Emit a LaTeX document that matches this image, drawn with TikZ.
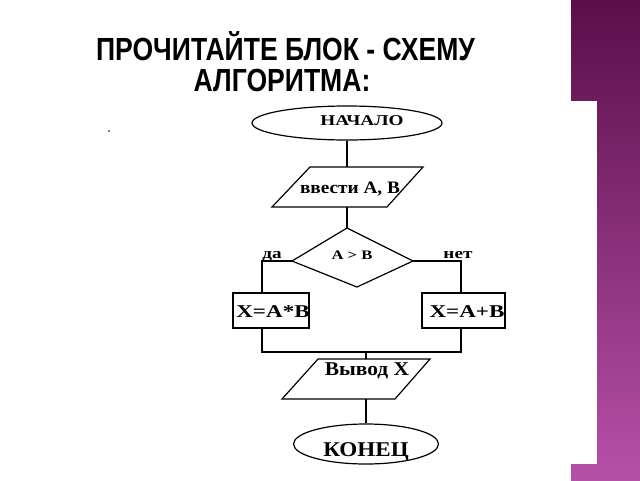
\documentclass[tikz,border=0pt]{standalone}
\usepackage{fontspec}
\setmainfont{Liberation Serif}
\newfontfamily\scanA[FakeStretch=1.1]{Liberation Serif}
\newfontfamily\scanB[FakeStretch=1.28]{Liberation Serif}
\newfontfamily\titlefont[FakeStretch=0.83]{Liberation Sans}
\usetikzlibrary{shapes.geometric,calc}
\definecolor{purpleTop}{HTML}{5A0F4A}
\definecolor{purpleBot}{HTML}{B750A8}
\begin{document}
\begin{tikzpicture}[x=1pt,y=-1pt,line width=1.2pt,
  term/.style={ellipse,draw,inner sep=0pt},
  box/.style={rectangle,draw,inner sep=0pt},
  lblA/.style={inner sep=0pt,anchor=base,font=\scanA\bfseries\fontsize{#1pt}{#1pt}\selectfont},
  lblB/.style={inner sep=0pt,anchor=base,font=\scanB\bfseries\fontsize{#1pt}{#1pt}\selectfont},
  ttl/.style={inner sep=0pt,anchor=base,font=\titlefont\bfseries\fontsize{32pt}{32pt}\selectfont}]
\useasboundingbox (0,0) rectangle (640,480);
\fill[white] (0,0) rectangle (640,480);
% right decorative band
\shade[top color=purpleTop,bottom color=purpleBot,draw=none] (571,0) rectangle (640,480);
\fill[white] (571,101) rectangle (597,464);
% title
\node[ttl] (t1) at (285.5,60) {ПРОЧИТАЙТЕ БЛОК - СХЕМУ};
\node[ttl] (t2) at (282,91) {АЛГОРИТМА:};
% stray dot
\fill (109,131) circle (0.9);
% start
\node[term,minimum width=190pt,minimum height=34pt] (start) at (347,123) {};
\node[lblB=15] (lstart) at (362,125) {НАЧАЛО};
% input
\coordinate (inBL) at (272,207); \coordinate (inTL) at (310,167);
\coordinate (inTR) at (423,167); \coordinate (inBR) at (387,207);
\coordinate (inT) at (347,167); \coordinate (inB) at (347,207);
\draw (inBL) -- (inTL) -- (inTR) -- (inBR) -- cycle;
\node[lblA=17.5] (lin) at (350,193) {ввести А, В};
% decision
\coordinate (dT) at (347,228); \coordinate (dL) at (292,261);
\coordinate (dR) at (413,261); \coordinate (dB) at (357,287);
\draw (dT) -- (dR) -- (dB) -- (dL) -- cycle;
\node[lblB=13] (ldec) at (352,259) {A > B};
\node[lblB=15] (lyes) at (272,258) {да};
\node[lblB=15] (lno) at (458,258) {нет};
% process boxes
\node[box,minimum width=76pt,minimum height=35pt] (lbox) at (271,310.5) {};
\node[lblB=18] (llbox) at (273,317) {X=A*B};
\node[box,minimum width=83pt,minimum height=35pt] (rbox) at (463.5,310.5) {};
\node[lblB=18] (lrbox) at (467,317) {X=A+B};
\coordinate (lbT) at (262,293); \coordinate (lbB) at (262,328);
\coordinate (rbT) at (461,293); \coordinate (rbB) at (461,328);
\coordinate (mL) at (262,352); \coordinate (mR) at (461,352); \coordinate (mC) at (366,352);
% output
\coordinate (oBL) at (282,399); \coordinate (oTL) at (318,359);
\coordinate (oTR) at (430,359); \coordinate (oBR) at (395,399);
\coordinate (oT) at (366,359); \coordinate (oB) at (366,399);
\draw (oBL) -- (oTL) -- (oTR) -- (oBR) -- cycle;
\node[lblA=19.5] (lout) at (367,375) {Вывод X};
% end
\node[term,minimum width=145pt,minimum height=40pt] (stop) at (366,444) {};
\node[lblA=21] (lstop) at (366,456) {КОНЕЦ};
% connectors
\draw (start.south) -- (inT);
\draw (inB) -- (dT);
\draw (dL) -| (lbT);
\draw (dR) -| (rbT);
\draw (lbB) -- (mL) -- (mR) -- (rbB);
\draw (mC) -- (oT);
\draw (oB) -- (stop.north);
\end{tikzpicture}
\end{document}
